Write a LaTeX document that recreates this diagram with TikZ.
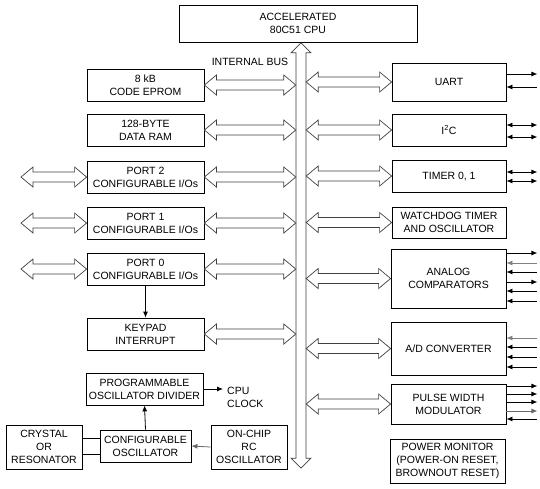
\documentclass[tikz,border=0pt]{standalone}
\usepackage{fontspec}
\setmainfont{Liberation Sans}
\usetikzlibrary{calc,arrows.meta}

\tikzset{
  blk/.style={draw, line width=0.8pt, align=center, inner sep=0pt, font=\fontsize{10.5}{13}\selectfont},
  lbl/.style={align=left, inner sep=0pt, font=\fontsize{10.5}{13}\selectfont},
  hollow/.style={draw=black!75, line width=0.7pt, fill=white, line join=miter},
  sig/.style={line width=0.8pt},
  sigout/.style={sig, -{Latex[length=6pt,width=5pt]}},
  sigin/.style={sig, {Latex[length=6pt,width=5pt]}-},
  sigboth/.style={sig, {Latex[length=6pt,width=5pt]}-{Latex[length=6pt,width=5pt]}},
}

% wide two-headed bus arrow between two points (horizontal)
\newcommand\widearrow[2]{%
  \draw[hollow] let \p1=(#1), \p2=(#2) in
    (\x1,\y1) -- (\x1+12pt,\y1+10pt) -- (\x1+12pt,\y1+5pt) -- (\x2-12pt,\y1+5pt)
    -- (\x2-12pt,\y1+10pt) -- (\x2,\y1) -- (\x2-12pt,\y1-10pt) -- (\x2-12pt,\y1-5pt)
    -- (\x1+12pt,\y1-5pt) -- (\x1+12pt,\y1-10pt) -- cycle;}

\begin{document}
\begin{tikzpicture}[x=1pt,y=-1pt]
  \useasboundingbox (0,0) rectangle (540,488);

  % cpu and internal bus
  \node[blk, minimum width=238pt, minimum height=37pt] (cpu) at (298,23.5) {ACCELERATED\\80C51 CPU};
  \node[inner sep=0pt, minimum width=10pt, minimum height=425pt] (bus) at (301,255.5) {};
  \draw[hollow] let \p1=(bus.north), \p2=(bus.south) in
    (\p1) -- (\x1+10pt,\y1-10pt) -- (\x1+5pt,\y1-10pt) -- (\x1+5pt,\y2+10pt)
    -- (\x1+10pt,\y2+10pt) -- (\p2) -- (\x1-10pt,\y2+10pt) -- (\x1-5pt,\y2+10pt)
    -- (\x1-5pt,\y1-10pt) -- (\x1-10pt,\y1-10pt) -- cycle;
  \node[lbl] (buslbl) at (250,62) {INTERNAL BUS};

  % left column
  \node[blk, minimum width=117pt, minimum height=32pt] (eprom) at (145.5,85) {8 kB\\CODE EPROM};
  \node[blk, minimum width=117pt, minimum height=32pt] (ram) at (145.5,130) {128-BYTE\\DATA RAM};
  \node[blk, minimum width=117pt, minimum height=32pt] (port2) at (145.5,177) {PORT 2\\CONFIGURABLE I/Os};
  \node[blk, minimum width=117pt, minimum height=32pt] (port1) at (145.5,223) {PORT 1\\CONFIGURABLE I/Os};
  \node[blk, minimum width=117pt, minimum height=32pt] (port0) at (145.5,269) {PORT 0\\CONFIGURABLE I/Os};
  \node[blk, minimum width=117pt, minimum height=32pt] (keypad) at (145.5,334) {KEYPAD\\INTERRUPT};

  % right column
  \node[blk, minimum width=114pt, minimum height=38pt] (uart) at (449,82) {UART};
  \node[blk, minimum width=114pt, minimum height=32pt] (i2c) at (449,130) {I\textsuperscript{2}C};
  \node[blk, minimum width=114pt, minimum height=32pt] (timer) at (449,176) {TIMER 0, 1};
  \node[blk, minimum width=114pt, minimum height=31pt] (wdt) at (449,222.5) {WATCHDOG TIMER\\AND OSCILLATOR};
  \node[blk, minimum width=115pt, minimum height=59pt] (cmp) at (448.5,278.5) {ANALOG\\COMPARATORS};
  \node[blk, minimum width=115pt, minimum height=53pt] (adc) at (448.5,348.5) {A/D CONVERTER};
  \node[blk, minimum width=115pt, minimum height=40pt] (pwm) at (448.5,404) {PULSE WIDTH\\MODULATOR};
  \node[blk, minimum width=115pt, minimum height=44pt] (pmon) at (447.5,461) {POWER MONITOR\\(POWER-ON RESET,\\BROWNOUT RESET)};

  % clock section
  \node[blk, minimum width=117pt, minimum height=32pt] (div) at (144.5,389) {PROGRAMMABLE\\OSCILLATOR DIVIDER};
  \node[lbl, anchor=west] (clk) at (227,397) {CPU\\CLOCK};
  \node[blk, minimum width=76pt, minimum height=44pt] (xtal) at (44,447) {CRYSTAL\\OR\\RESONATOR};
  \node[blk, minimum width=91pt, minimum height=32pt] (osc) at (145.5,446) {CONFIGURABLE\\OSCILLATOR};
  \node[blk, minimum width=76pt, minimum height=44pt] (rcosc) at (249,447) {ON-CHIP\\RC\\OSCILLATOR};

  % bus connections
  \foreach \b in {eprom,ram,port2,port1,port0,keypad}
    \widearrow{\b.east}{\b.east -| bus.west};
  \foreach \b in {uart,i2c,timer,wdt,cmp,adc,pwm}
    \widearrow{\b.west -| bus.east}{\b.west};

  % port pins
  \coordinate (io2) at (21,177);
  \coordinate (io1) at (21,223);
  \coordinate (io0) at (21,269);
  \widearrow{io2}{port2.west}
  \widearrow{io1}{port1.west}
  \widearrow{io0}{port0.west}

  % peripheral pins
  \draw[sigout] (uart.east |- 0,74) -- ++(31,0);
  \draw[sigin] (uart.east |- 0,87) -- ++(31,0);
  \foreach \y in {125,137} \draw[sigboth] (i2c.east |- 0,\y) -- ++(31,0);
  \foreach \y in {172,181} \draw[sigboth] (timer.east |- 0,\y) -- ++(31,0);
  \foreach \y in {253,282} \draw[sigout] (cmp.east |- 0,\y) -- ++(31,0);
  \draw[sigin, black!50] (cmp.east |- 0,263) -- ++(31,0);
  \foreach \y in {272,291,301} \draw[sigin] (cmp.east |- 0,\y) -- ++(31,0);
  \draw[sigin, black!50] (adc.east |- 0,338) -- ++(31,0);
  \foreach \y in {347,357,367} \draw[sigin] (adc.east |- 0,\y) -- ++(31,0);
  \foreach \y in {386,394,402} \draw[sigout] (pwm.east |- 0,\y) -- ++(31,0);
  \draw[sigout, black!60] (pwm.east |- 0,411) -- ++(31,0);
  \draw[sigin] (pwm.east |- 0,419) -- ++(31,0);

  % internal signals
  \draw[sigout] (port0.south) -- (keypad.north);
  \draw[sigout] (div.east) -- ([xshift=-4pt]div.east -| clk.west);
  \draw[sigout] (osc.north) -- (div.south);
  \draw[sigout, black!60] (rcosc.west) -- (osc.east);
  \draw[sig] (xtal.east |- 0,438) -- (osc.west |- 0,438);
  \draw[sig] (xtal.east |- 0,454) -- (osc.west |- 0,454);
\end{tikzpicture}
\end{document}
